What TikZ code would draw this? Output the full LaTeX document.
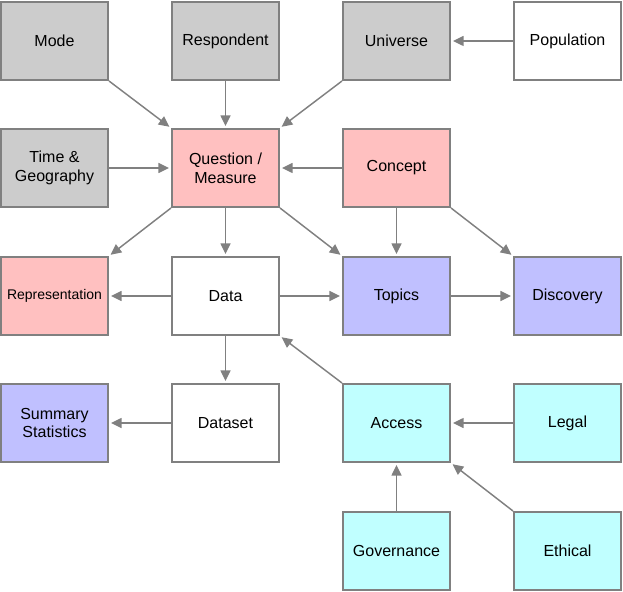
\documentclass[tikz,border=0pt]{standalone}
\usepackage{fontspec}
\setmainfont{Liberation Sans}
\usetikzlibrary{arrows.meta}

\definecolor{boxgray}{HTML}{CCCCCC}
\definecolor{boxpink}{HTML}{FFC0C0}
\definecolor{boxblue}{HTML}{C0C0FF}
\definecolor{boxcyan}{HTML}{C0FFFF}
\definecolor{edgegray}{HTML}{808080}

\tikzstyle{box} = [rectangle, draw=edgegray, line width=1.5pt, minimum width=80.25pt, minimum height=58.5pt, align=center, font=\fontsize{12}{14}\selectfont, inner sep=0pt]
\tikzstyle{line} = [draw=edgegray, line width=1.1pt, -{Triangle[length=8pt,width=7.5pt]}, shorten >=1.5pt]

\begin{document}
\begin{tikzpicture}[x=0.75pt,y=-0.75pt]
		\useasboundingbox (0,0) rectangle (623,591);
		
		%top row
		\node[box,fill=boxgray](mode) at (54.5,41) {Mode};
		\node[box,fill=boxgray](respondent) at (225.5,41) {Respondent};
		\node[box,fill=boxgray](universe) at (396.5,41) {Universe};
		\node[box,fill=white](population) at (567.5,41) {Population};
		%second row
		\node[box,fill=boxgray](time) at (54.5,168) {Time \&\\Geography};
		\node[box,fill=boxpink](question) at (225.5,168) {Question /\\Measure};
		\node[box,fill=boxpink](concept) at (396.5,168) {Concept};
		%third row
		\node[box,fill=boxpink,font=\fontsize{10.5}{12}\selectfont](representation) at (54.5,296) {Representation};
		\node[box,fill=white](data) at (225.5,296) {Data};
		\node[box,fill=boxblue](topics) at (396.5,296) {Topics};
		\node[box,fill=boxblue](discovery) at (567.5,296) {Discovery};
		%fourth row
		\node[box,fill=boxblue](summary) at (54.5,423) {Summary\\Statistics};
		\node[box,fill=white](dataset) at (225.5,423) {Dataset};
		\node[box,fill=boxcyan](access) at (396.5,423) {Access};
		\node[box,fill=boxcyan](legal) at (567.5,423) {Legal};
		%bottom row
		\node[box,fill=boxcyan](governance) at (396.5,551) {Governance};
		\node[box,fill=boxcyan](ethical) at (567.5,551) {Ethical};
		
		%arrows into question
		\draw[line] (mode.south east) -- (question.north west);
		\draw[line] (respondent.south) -- (question.north);
		\draw[line] (universe.south west) -- (question.north east);
		\draw[line] (population.west) -- (universe.east);
		\draw[line] (time.east) -- (question.west);
		\draw[line] (concept.west) -- (question.east);
		%arrows out of question
		\draw[line] (question.south west) -- (representation.north east);
		\draw[line] (question.south) -- (data.north);
		\draw[line] (question.south east) -- (topics.north west);
		\draw[line] (concept.south) -- (topics.north);
		\draw[line] (concept.south east) -- (discovery.north west);
		%data
		\draw[line] (data.west) -- (representation.east);
		\draw[line] (data.east) -- (topics.west);
		\draw[line] (topics.east) -- (discovery.west);
		\draw[line] (data.south) -- (dataset.north);
		\draw[line] (dataset.west) -- (summary.east);
		%access
		\draw[line] (access.north west) -- (data.south east);
		\draw[line] (legal.west) -- (access.east);
		\draw[line] (governance.north) -- (access.south);
		\draw[line] (ethical.north west) -- (access.south east);
		\end{tikzpicture}
\end{document}
